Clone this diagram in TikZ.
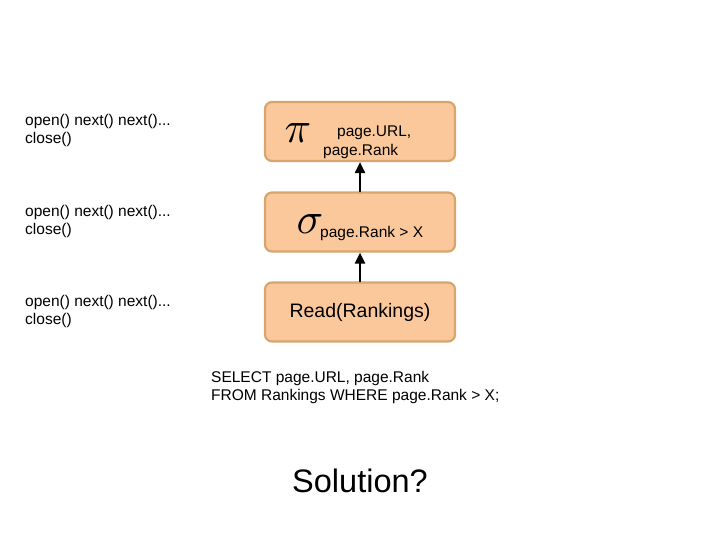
\documentclass[tikz,border=0pt]{standalone}
\usepackage{fontspec}
\setmainfont{Liberation Sans}
\usetikzlibrary{arrows.meta}
\definecolor{opfill}{RGB}{250,200,155}
\definecolor{opdraw}{RGB}{215,165,110}
\tikzset{
	opbox/.style={draw=opdraw,fill=opfill,line width=2.2pt,rounded corners=7pt,minimum width=190pt,minimum height=59pt,inner sep=0pt},
	calls/.style={anchor=north west,align=left,inner sep=0pt,font=\fontsize{15.5}{18.5}\selectfont},
	lbl/.style={inner sep=0pt,font=\fontsize{15.5}{18}\selectfont},
	greek/.style={inner sep=0pt,scale=4.4},
	flow/.style={-{Triangle[length=11pt,width=10pt]},line width=2pt}
}
\begin{document}
\begin{tikzpicture}[line join=round,line cap=round,x=1pt,y=-1pt]
	\useasboundingbox (0,0) rectangle (720,540);
	% operator boxes
	\node[opbox] (proj) at (360,131.5) {};
	\node[opbox] (sel) at (360,222) {};
	\node[opbox] (scan) at (360,312) {};
	\draw[flow] (sel.north) -- (proj.south);
	\draw[flow] (scan.north) -- (sel.south);
	% box contents
	\node[greek] (pi) at (298,133) {$\pi$};
	\node[lbl,anchor=west] (purl) at (337,133) {page.URL,};
	\node[lbl,anchor=west] (prank) at (323,151) {page.Rank};
	\node[greek] (sigma) at (310,224) {$\sigma$};
	\node[lbl,anchor=west] (cond) at (320,233) {page.Rank > X};
	\node[inner sep=0pt,font=\fontsize{19.5}{22}\selectfont] (read) at (360,312) {Read(Rankings)};
	% iterator calls
	\node[calls] (c1) at (25,114) {open() next() next()...\\close()};
	\node[calls] (c2) at (25,205) {open() next() next()...\\close()};
	\node[calls] (c3) at (25,295) {open() next() next()...\\close()};
	% query
	\node[calls] (sql) at (211,371) {SELECT page.URL, page.Rank\\FROM Rankings WHERE page.Rank > X;};
	\node[inner sep=0pt,font=\fontsize{32.5}{36}\selectfont] (sol) at (360,481) {Solution?};
\end{tikzpicture}
\end{document}
